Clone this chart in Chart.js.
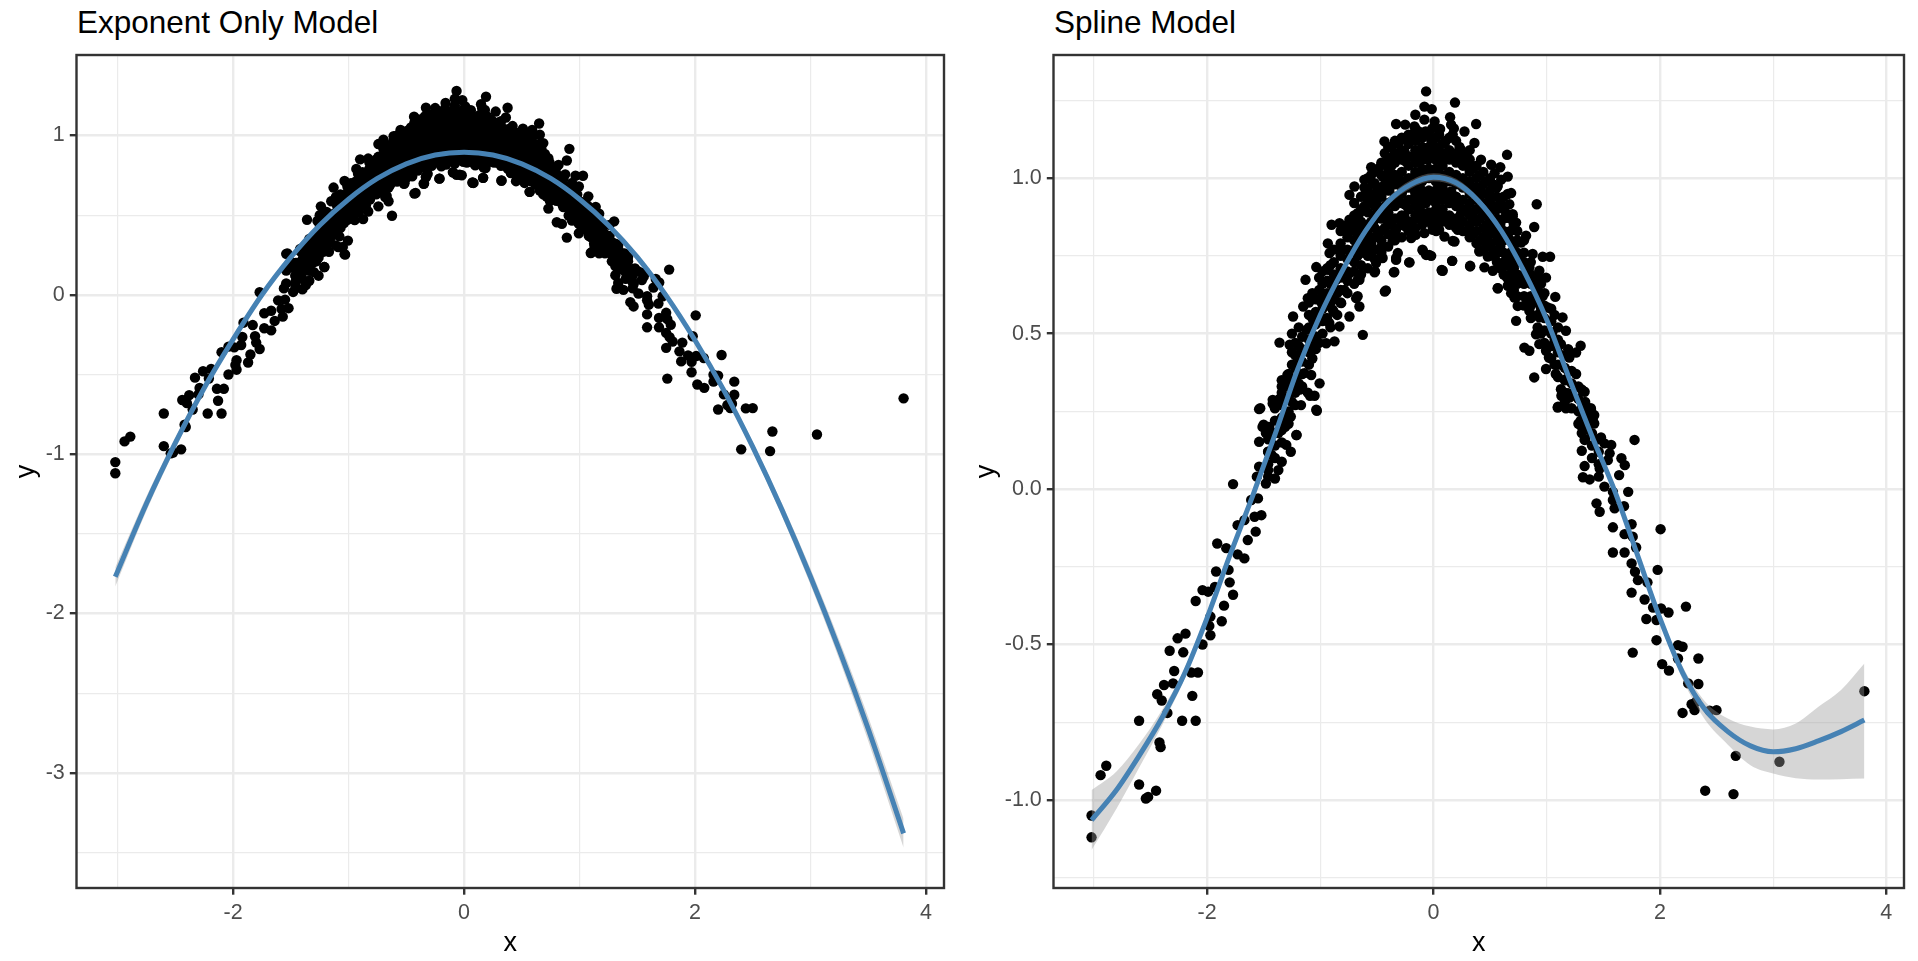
<!DOCTYPE html>
<html><head><meta charset="utf-8">
<script src="https://cdn.jsdelivr.net/npm/chart.js@4.4.1/dist/chart.umd.min.js"></script>
<style>
html,body{margin:0;padding:0;background:#fff;}
body{width:1918px;height:961px;position:relative;overflow:hidden;font-family:"Liberation Sans",Arial,sans-serif;}
canvas{position:absolute;top:0;}
.title{position:absolute;font-size:31.5px;line-height:31px;color:#000;white-space:nowrap;}
</style></head><body>
<div class="title" style="left:77px;top:7px;">Exponent Only Model</div>
<div class="title" style="left:1054px;top:7px;">Spline Model</div>
<canvas id="c1" width="959" height="961" style="left:0px"></canvas>
<canvas id="c2" width="959" height="961" style="left:959px"></canvas>
<script>
// ---------- axis ticks ----------
const xTicksMajor = [-2, 0, 2, 4];
const xTicksMinor = [-3, -1, 1, 3];
const yTicksMajorL = [-3, -2, -1, 0, 1];
const yTickLabelsL = ['-3', '-2', '-1', '0', '1'];
const yTicksMinorL = [-3.5, -2.5, -1.5, -0.5, 0.5, 1.5];
const yTicksMajorR = [-1, -0.5, 0, 0.5, 1];
const yTickLabelsR = ['-1.0', '-0.5', '0.0', '0.5', '1.0'];
const yTicksMinorR = [-1.25, -0.75, -0.25, 0.25, 0.75, 1.25];

// ---------- observed points [x, y] ----------
const ptsLeftTail = [[-3.02,-1.05],[-3.02,-1.12],[-2.94,-0.92],[-2.89,-0.89],[-2.60,-0.95],[-2.54,-0.995],[-2.52,-0.99],[-2.45,-0.97],[-2.60,-0.745],[-2.41,-0.83],[-2.42,-0.815],[-2.35,-0.72],[-2.44,-0.66],[-2.40,-0.68],[-2.38,-0.63],[-2.30,-0.625],[-2.22,-0.745],[-2.10,-0.745],[-2.13,-0.665],[-2.29,-0.585],[-2.14,-0.59],[-2.08,-0.59],[-2.33,-0.52],[-2.21,-0.525],[-2.26,-0.48],[-2.19,-0.465],[-2.04,-0.50],[-1.97,-0.47],[-1.98,-0.44],[-1.97,-0.41],[-1.87,-0.425],[-2.10,-0.36],[-2.04,-0.325],[-1.99,-0.33],[-1.93,-0.315],[-1.85,-0.375],[-1.77,-0.34],[-1.80,-0.30],[-1.92,-0.265],[-1.81,-0.26],[-1.91,-0.175],[-1.83,-0.19],[-1.73,-0.21],[-1.67,-0.223],[-1.73,-0.116],[-1.67,-0.10],[-1.64,-0.164],[-1.57,-0.137],[-1.58,-0.089],[-1.52,-0.084],[-1.61,-0.035],[-1.55,-0.03],[-1.77,0.016],[-1.48,0.018],[-1.56,0.04],[-1.40,0.034],[-1.46,0.061],[-1.54,0.072],[-1.37,0.061],[-1.34,0.088],[-1.54,0.152],[-1.46,0.12],[-1.43,0.11],[-1.30,0.142],[-1.26,0.12],[-1.21,0.174],[-1.51,0.20],[-1.48,0.18],[-1.37,0.18],[-1.31,0.20],[-1.54,0.257],[-1.26,0.233],[-1.03,0.252],[-1.42,0.275],[-1.36,0.29],[-1.17,0.27],[-1.11,0.31],[-1.05,0.30]];

const ptsLeftUpper = [[-1.53,0.26],[-1.50,0.207],[-1.45,0.20],[-1.42,0.287],[-1.36,0.276],[-1.33,0.212],[-1.30,0.233],[-1.21,0.174],[-1.34,0.33],[-1.27,0.34],[-1.29,0.367],[-1.18,0.32],[-1.14,0.373],[-1.08,0.367],[-1.035,0.255],[-1.09,0.30],[-1.006,0.34],[-1.36,0.471],[-1.27,0.464],[-1.20,0.43],[-1.24,0.555],[-1.15,0.587],[-1.11,0.614],[-1.13,0.673],[-1.035,0.714],[-0.93,0.705],[-0.99,0.60],[-1.06,0.544],[-1.12,0.512],[-1.035,0.49],[-0.947,0.469],[-0.874,0.475],[-0.92,0.534],[-0.83,0.523],[-0.742,0.555],[-0.624,0.496],[-0.89,0.577],[-0.815,0.598],[-0.654,0.587],[-0.683,0.614],[-0.786,0.64],[-0.86,0.673],[-0.742,0.694],[-0.654,0.673],[-0.918,0.759],[-0.933,0.79],[-0.83,0.775],[-0.90,0.85],[-0.83,0.855],[-0.742,0.866],[-0.654,0.887],[-0.683,0.855],[-0.742,0.828],[-0.654,0.78],[-0.595,0.807],[-0.566,0.759],[-0.507,0.727],[-0.449,0.743],[-0.516,0.70],[-0.43,0.635],[-0.346,0.698],[-0.33,0.743],[-0.214,0.729],[-0.742,0.946],[-0.698,0.973],[-0.595,0.952],[-0.507,0.92],[-0.537,0.984],[-0.449,1.005],[-0.39,0.962],[-0.42,0.877],[-0.33,0.834],[-0.36,0.80],[-0.29,0.866],[-0.214,0.845],[-0.156,0.818],[-0.097,0.77],[-0.038,0.753],[0.073,0.705],[-0.009,0.845],[0.02,0.898],[-0.067,0.92],[-0.156,0.93],[-0.27,0.962],[-0.185,0.995],[0.079,0.962],[0.079,0.93],[0.05,0.834],[0.108,0.877]];

const ptsPeak = [[-0.065,1.279],[0.19,1.243],[-0.08,1.23],[-0.015,1.222],[-0.16,1.204],[-0.33,1.174],[-0.25,1.172],[-0.168,1.166],[-0.08,1.188],[0.01,1.182],[0.147,1.196],[0.156,1.172],[0.059,1.158],[0.274,1.15],[0.377,1.174],[0.362,1.113],[0.18,1.16],[-0.433,1.118],[-0.24,1.129],[-0.11,1.14],[-0.02,1.123],[0.097,1.113],[0.244,1.091],[0.65,1.075],[-0.55,1.035],[-0.46,1.043],[-0.345,1.059],[-0.374,1.038],[-0.256,1.086],[-0.168,1.07],[-0.05,1.059],[0.068,1.064],[0.186,1.059],[0.303,1.048],[0.42,1.059],[0.51,1.043],[0.59,1.035],[-0.61,0.995],[-0.52,0.984],[-0.40,1.005],[0.598,0.995],[0.54,1.016],[0.656,1.005],[0.686,0.952],[-0.58,0.941],[-0.418,0.962],[-0.286,0.973],[-0.168,0.962],[-0.065,0.93],[0.038,0.962],[0.156,0.957],[0.274,0.973],[0.39,0.962],[0.51,0.941],[0.6,0.909],[0.7,0.877],[-0.67,0.887],[-0.52,0.866],[-0.40,0.887],[-0.256,0.877],[-0.14,0.909],[0.009,0.887],[0.127,0.866],[0.244,0.887],[0.362,0.866],[0.48,0.877],[-0.624,0.823],[-0.49,0.812],[-0.345,0.823],[-0.197,0.807],[-0.08,0.823],[-0.006,0.834],[0.097,0.812],[0.215,0.834],[0.333,0.823],[0.45,0.812],[0.568,0.812],[0.716,0.834],[0.186,0.796],[-0.58,0.759],[-0.46,0.78],[-0.315,0.759],[-0.33,0.737],[-0.094,0.767],[-0.065,0.753],[0.406,0.764],[0.48,0.748],[-0.212,0.729],[-0.52,0.697],[-0.35,0.697],[-0.42,0.639],[0.074,0.703],[0.165,0.734],[0.324,0.718],[0.568,0.646],[0.745,0.673],[0.686,0.63],[-0.67,0.673],[-0.67,0.62]];

const ptsRightUpper = [[0.568,0.975],[0.656,0.949],[0.912,0.916],[0.67,0.916],[0.70,0.884],[0.73,0.857],[0.89,0.843],[0.818,0.815],[0.774,0.793],[0.17,0.798],[0.347,0.82],[0.465,0.83],[0.553,0.847],[0.024,0.83],[0.406,0.766],[0.494,0.788],[0.553,0.756],[0.165,0.734],[-0.02,0.75],[0.082,0.702],[0.324,0.716],[0.45,0.713],[0.524,0.702],[0.656,0.718],[0.715,0.745],[0.774,0.734],[0.876,0.756],[0.965,0.747],[1.03,0.747],[0.935,0.702],[0.847,0.713],[0.67,0.68],[0.656,0.654],[0.568,0.646],[0.79,0.664],[0.906,0.67],[0.994,0.68],[0.715,0.616],[0.847,0.611],[0.965,0.621],[1.076,0.618],[0.744,0.589],[0.847,0.573],[0.935,0.552],[0.73,0.541],[1.009,0.584],[1.14,0.552],[1.17,0.509],[1.05,0.504],[0.906,0.498],[0.935,0.466],[0.803,0.455],[0.847,0.445],[0.994,0.445],[1.126,0.466],[1.30,0.461],[1.26,0.439],[1.20,0.423],[1.02,0.423],[0.994,0.386],[0.89,0.359],[1.08,0.37],[1.17,0.353],[1.26,0.37],[1.32,0.316],[1.126,0.321],[1.20,0.294],[1.097,0.262],[1.17,0.26],[1.39,0.257],[1.41,0.23],[1.30,0.22],[1.35,0.193],[1.48,0.166]];

const ptsRightTail = [[1.10,0.265],[1.16,0.28],[1.13,0.30],[1.19,0.308],[1.335,0.313],[1.39,0.26],[1.42,0.238],[1.42,0.211],[1.31,0.20],[1.335,0.158],[1.51,0.147],[1.57,0.142],[1.556,0.115],[1.776,0.158],[1.31,0.123],[1.54,0.093],[1.66,0.099],[1.69,0.077],[1.64,0.045],[1.335,0.074],[1.32,0.038],[1.38,0.031],[1.468,0.066],[1.51,0.008],[1.72,-0.009],[1.585,-0.009],[1.585,-0.035],[1.44,-0.046],[1.468,-0.073],[1.60,-0.062],[1.683,-0.055],[2.006,-0.129],[1.75,-0.113],[1.585,-0.123],[1.688,-0.145],[1.79,-0.188],[1.585,-0.204],[1.688,-0.204],[1.76,-0.153],[1.75,-0.239],[1.78,-0.266],[1.98,-0.26],[1.89,-0.30],[1.806,-0.293],[1.75,-0.333],[1.865,-0.355],[1.94,-0.381],[2.01,-0.384],[2.076,-0.397],[2.23,-0.378],[1.88,-0.418],[1.97,-0.421],[1.97,-0.486],[1.76,-0.526],[2.16,-0.502],[2.20,-0.507],[2.16,-0.545],[2.34,-0.545],[2.02,-0.563],[2.08,-0.584],[2.25,-0.625],[2.34,-0.627],[2.28,-0.692],[2.32,-0.684],[2.306,-0.711],[2.20,-0.72],[2.44,-0.713],[2.50,-0.711],[2.67,-0.858],[3.056,-0.877],[3.806,-0.65],[2.40,-0.97],[2.65,-0.981]];

// dense cloud around the top: [x, [y values]]
const coreCols = [
 [-0.88,[0.57,0.61,0.65,0.69,0.73,0.77]],
 [-0.82,[0.60,0.64,0.68,0.71,0.75,0.79,0.83]],
 [-0.76,[0.63,0.67,0.70,0.74,0.77,0.81,0.85]],
 [-0.70,[0.66,0.70,0.73,0.77,0.80,0.84,0.88,0.92]],
 [-0.64,[0.69,0.72,0.76,0.79,0.83,0.86,0.90,0.94]],
 [-0.58,[0.71,0.75,0.78,0.82,0.85,0.89,0.92,0.96,1.00]],
 [-0.52,[0.74,0.77,0.81,0.84,0.88,0.91,0.95,0.98,1.02]],
 [-0.46,[0.76,0.80,0.83,0.87,0.90,0.94,0.97,1.01,1.05]],
 [-0.40,[0.78,0.82,0.85,0.89,0.92,0.96,0.99,1.03,1.06,1.10]],
 [-0.34,[0.80,0.84,0.87,0.91,0.94,0.98,1.01,1.05,1.08,1.12]],
 [-0.28,[0.81,0.85,0.88,0.92,0.95,0.99,1.02,1.06,1.09,1.13]],
 [-0.22,[0.83,0.86,0.90,0.93,0.97,1.00,1.04,1.07,1.11,1.14]],
 [-0.16,[0.84,0.88,0.91,0.95,0.98,1.02,1.05,1.09,1.12,1.16]],
 [-0.10,[0.85,0.89,0.92,0.96,0.99,1.03,1.06,1.10,1.13]],
 [-0.04,[0.86,0.89,0.93,0.96,1.00,1.03,1.07,1.10,1.14]],
 [0.02,[0.85,0.89,0.92,0.96,0.99,1.03,1.06,1.10,1.13]],
 [0.08,[0.86,0.90,0.93,0.97,1.00,1.04,1.07,1.11]],
 [0.14,[0.85,0.88,0.92,0.95,0.99,1.02,1.06,1.09,1.13]],
 [0.20,[0.84,0.87,0.91,0.94,0.98,1.01,1.05,1.08,1.12]],
 [0.26,[0.83,0.86,0.90,0.93,0.97,1.00,1.04,1.07]],
 [0.32,[0.81,0.85,0.88,0.92,0.95,0.99,1.02,1.06,1.09]],
 [0.38,[0.79,0.83,0.86,0.90,0.93,0.97,1.00,1.04]],
 [0.44,[0.77,0.81,0.84,0.88,0.91,0.95,0.98,1.02]],
 [0.50,[0.75,0.79,0.82,0.86,0.89,0.93,0.96,1.00]],
 [0.56,[0.73,0.76,0.80,0.83,0.87,0.90,0.94,0.97]],
 [0.62,[0.69,0.73,0.76,0.80,0.83,0.87,0.90,0.94]],
 [0.68,[0.66,0.69,0.73,0.76,0.80,0.83,0.87]],
 [0.74,[0.62,0.66,0.69,0.73,0.76,0.80,0.83]],
 [0.80,[0.59,0.62,0.66,0.69,0.73,0.76,0.80]],
 [0.86,[0.55,0.59,0.62,0.66,0.69,0.73]]
];
const innerCols = [
 [-0.67,[0.75,0.82,0.88]],
 [-0.61,[0.77,0.84,0.91,0.97]],
 [-0.55,[0.79,0.86,0.94,1.01]],
 [-0.49,[0.82,0.89,0.96,1.03]],
 [-0.43,[0.84,0.91,0.98,1.045,1.08]],
 [-0.37,[0.86,0.925,0.995,1.065,1.10]],
 [-0.31,[0.87,0.935,1.005,1.075,1.11]],
 [-0.25,[0.845,0.915,0.985,1.055,1.125]],
 [-0.19,[0.86,0.93,1.00,1.07,1.14]],
 [-0.13,[0.87,0.94,1.01,1.08,1.15]],
 [-0.07,[0.875,0.945,1.015,1.085,1.15]],
 [-0.01,[0.875,0.945,1.015,1.085,1.16]],
 [0.05,[0.875,0.945,1.015,1.085,1.14]],
 [0.11,[0.87,0.94,1.01,1.08,1.12]],
 [0.17,[0.865,0.935,1.005,1.075,1.14]],
 [0.23,[0.855,0.925,0.995,1.065,1.10]],
 [0.29,[0.83,0.90,0.97,1.04,1.08]],
 [0.35,[0.82,0.89,0.96,1.03]],
 [0.41,[0.80,0.87,0.94,1.01]],
 [0.47,[0.78,0.85,0.92,0.99]],
 [0.53,[0.77,0.84,0.91,0.98]],
 [0.59,[0.71,0.78,0.85,0.92]],
 [0.65,[0.68,0.745,0.815,0.885]],
 [0.71,[0.64,0.71,0.78,0.85]]
];
const flankCols = [
 [-1.46,[0.04,0.08,0.12,0.16,0.20]],
 [-1.40,[0.10,0.14,0.18,0.22,0.26]],
 [-1.34,[0.15,0.19,0.23,0.27,0.31,0.35]],
 [-1.28,[0.21,0.25,0.29,0.33,0.37]],
 [-1.25,[0.28,0.32,0.40,0.44,0.50]],
 [-1.22,[0.27,0.31,0.35,0.39,0.43,0.47]],
 [-1.19,[0.34,0.42,0.46,0.52]],
 [-1.16,[0.33,0.37,0.41,0.45,0.49]],
 [-1.10,[0.40,0.44,0.48,0.52,0.56,0.60]],
 [-1.07,[0.42,0.46,0.55,0.63]],
 [-1.04,[0.45,0.49,0.53,0.57,0.61]],
 [-1.01,[0.47,0.56,0.64,0.68]],
 [-0.98,[0.50,0.54,0.58,0.62,0.66,0.70]],
 [-0.94,[0.55,0.59,0.63,0.67,0.71]],
 [-0.91,[0.52,0.60,0.66,0.72]],
 [-0.85,[0.56,0.63,0.69]],
 [0.92,[0.52,0.56,0.60,0.64,0.68]],
 [0.95,[0.50,0.58,0.66]],
 [0.98,[0.47,0.51,0.55,0.59,0.63]],
 [1.04,[0.42,0.46,0.50,0.54,0.58]],
 [1.07,[0.40,0.48,0.56]],
 [1.10,[0.36,0.40,0.44,0.48,0.52]],
 [1.16,[0.31,0.35,0.39,0.43]],
 [1.19,[0.30,0.38,0.45]],
 [1.22,[0.26,0.30,0.34,0.38]],
 [1.28,[0.21,0.25,0.29,0.33]],
 [1.31,[0.18,0.26,0.32]],
 [1.34,[0.16,0.20,0.24,0.28]],
 [1.40,[0.10,0.14,0.18,0.22]],
 [1.46,[0.04,0.08,0.12,0.16]]
];

// ---------- fitted curves ----------
const expX  = [-3.02,-2.75,-2.5,-2.25,-2.0,-1.75,-1.5,-1.25,-1.0,-0.75,-0.5,-0.25,0,0.25,0.5,0.75,1.0,1.25,1.5,1.75,2.0,2.25,2.5,2.75,3.0,3.25,3.5,3.806];
const expY  = [-1.77,-1.31,-0.93,-0.585,-0.28,0.0,0.236,0.437,0.60,0.73,0.822,0.877,0.895,0.877,0.822,0.73,0.60,0.437,0.236,-0.005,-0.285,-0.60,-0.955,-1.345,-1.77,-2.23,-2.725,-3.38];
const expLo = [-1.83,-1.355,-0.964,-0.61,-0.298,-0.014,0.224,0.425,0.588,0.718,0.81,0.865,0.883,0.865,0.81,0.718,0.588,0.425,0.224,-0.019,-0.303,-0.625,-0.985,-1.385,-1.82,-2.29,-2.80,-3.47];
const expHi = [-1.71,-1.265,-0.896,-0.56,-0.262,0.014,0.248,0.449,0.612,0.742,0.834,0.889,0.907,0.889,0.834,0.742,0.612,0.449,0.248,0.009,-0.267,-0.575,-0.925,-1.305,-1.72,-2.17,-2.65,-3.29];

const splX  = [-3.02,-2.8,-2.6,-2.4,-2.2,-2.0,-1.8,-1.6,-1.4,-1.2,-1.0,-0.8,-0.6,-0.4,-0.2,0.0,0.2,0.4,0.6,0.8,1.0,1.2,1.4,1.6,1.8,2.0,2.2,2.4,2.6,2.8,3.0,3.2,3.4,3.6,3.806];
const splY  = [-1.065,-0.968,-0.858,-0.737,-0.595,-0.415,-0.215,-0.025,0.175,0.385,0.56,0.705,0.83,0.925,0.98,1.003,0.985,0.925,0.83,0.70,0.545,0.355,0.17,-0.005,-0.21,-0.415,-0.59,-0.71,-0.78,-0.826,-0.845,-0.835,-0.81,-0.78,-0.743];
const splHi = [-0.968,-0.908,-0.820,-0.712,-0.578,-0.402,-0.204,-0.015,0.185,0.395,0.570,0.715,0.841,0.937,0.993,1.016,0.998,0.937,0.841,0.710,0.555,0.365,0.180,0.006,-0.198,-0.400,-0.570,-0.684,-0.738,-0.764,-0.773,-0.754,-0.700,-0.646,-0.561];
const splLo = [-1.161,-1.028,-0.896,-0.762,-0.612,-0.428,-0.226,-0.035,0.165,0.375,0.550,0.695,0.819,0.913,0.967,0.990,0.972,0.913,0.819,0.690,0.535,0.345,0.160,-0.016,-0.222,-0.430,-0.612,-0.743,-0.822,-0.888,-0.915,-0.930,-0.934,-0.933,-0.931];

// ---------- build ----------
const toXY = arr => arr.map(([x, y]) => ({x, y}));
const colsToXY = cols => cols.flatMap(([x, ys]) => ys.map(y => ({x, y})));
const allPoints = [
  ...toXY(ptsLeftTail), ...toXY(ptsLeftUpper), ...toXY(ptsPeak),
  ...toXY(ptsRightUpper), ...toXY(ptsRightTail),
  ...colsToXY(coreCols), ...colsToXY(innerCols), ...colsToXY(flankCols)
];
const zipXY = (xs, ys) => xs.map((x, i) => ({x, y: ys[i]}));

Chart.defaults.font.family = '"Liberation Sans", Arial, sans-serif';

const GRID = '#EBEBEB', INK = '#333333';
const border = {
  id: 'panelBorder',
  afterDatasetsDraw(chart) {
    const {ctx, chartArea: a} = chart;
    ctx.save();
    ctx.strokeStyle = INK; ctx.lineWidth = 2.4;
    ctx.strokeRect(a.left, a.top, a.right - a.left, a.bottom - a.top);
    ctx.restore();
  }
};

function isIn(v, arr) { return arr.some(a => Math.abs(a - v) < 1e-9); }

function makeChart(id, o) {
  const xAll = [...xTicksMinor, ...xTicksMajor].sort((a, b) => a - b);
  const yAll = [...o.yMinor, ...o.yMajor].sort((a, b) => a - b);
  const gridOpts = (major) => ({
    color: GRID,
    lineWidth: c => (c.tick && isIn(c.tick.value, major)) ? 2.4 : 1.2,
    drawTicks: true,
    tickLength: 6.7,
    tickWidth: c => (c.tick && isIn(c.tick.value, major)) ? 2.4 : 0,
    tickColor: c => (c.tick && isIn(c.tick.value, major)) ? INK : 'rgba(0,0,0,0)'
  });
  return new Chart(document.getElementById(id), {
    type: 'scatter',
    data: {
      datasets: [
        { type: 'scatter', data: allPoints, backgroundColor: '#000', borderWidth: 0,
          pointRadius: 5.2, pointHoverRadius: 5.2, order: 3 },
        { type: 'line', data: zipXY(o.fx, o.fhi), fill: '+1', backgroundColor: 'rgba(153,153,153,0.4)',
          borderWidth: 0, borderColor: 'rgba(0,0,0,0)', pointRadius: 0, cubicInterpolationMode: 'monotone', order: 2 },
        { type: 'line', data: zipXY(o.fx, o.flo), fill: false,
          borderWidth: 0, borderColor: 'rgba(0,0,0,0)', pointRadius: 0, cubicInterpolationMode: 'monotone', order: 2 },
        { type: 'line', data: zipXY(o.fx, o.fy), fill: false, borderColor: '#4682B4', borderWidth: 5,
          pointRadius: 0, cubicInterpolationMode: 'monotone', order: 1 }
      ]
    },
    options: {
      responsive: false, animation: false, events: [],
      layout: { padding: { top: 55, right: o.padRight, left: 0, bottom: 0 } },
      plugins: { legend: { display: false }, tooltip: { enabled: false }, title: { display: false } },
      scales: {
        x: {
          type: 'linear', min: -3.356, max: 4.156,
          afterBuildTicks: s => { s.ticks = xAll.map(v => ({value: v})); },
          afterFit: s => { s.height = 73; },
          grid: gridOpts(xTicksMajor),
          border: { display: false },
          ticks: { autoSkip: false, maxRotation: 0, padding: 5, color: '#4D4D4D', font: { size: 21.5 },
                   callback: v => isIn(v, xTicksMajor) ? String(v) : '' },
          title: { display: true, text: 'x', color: '#000', font: { size: 27 }, padding: { top: 0, bottom: 0.8 } }
        },
        y: {
          type: 'linear', min: o.ymin, max: o.ymax,
          afterBuildTicks: s => { s.ticks = yAll.map(v => ({value: v})); },
          afterFit: s => { s.width = o.yWidth; },
          grid: gridOpts(o.yMajor),
          border: { display: false },
          ticks: { autoSkip: false, padding: 5, color: '#4D4D4D', font: { size: 21.5 },
                   callback: v => { const i = o.yMajor.findIndex(a => Math.abs(a - v) < 1e-9); return i >= 0 ? o.yLabels[i] : ''; } },
          title: { display: true, text: 'y', color: '#000', font: { size: 27 }, padding: { top: o.yTitlePad, bottom: 0 } }
        }
      }
    },
    plugins: [border]
  });
}

makeChart('c1', {
  fx: expX, fy: expY, flo: expLo, fhi: expHi,
  ymin: -3.723, ymax: 1.505, yMajor: yTicksMajorL, yLabels: yTickLabelsL, yMinor: yTicksMinorL,
  yWidth: 76.5, padRight: 15, yTitlePad: 10.5
});
makeChart('c2', {
  fx: splX, fy: splY, flo: splLo, fhi: splHi,
  ymin: -1.283, ymax: 1.396, yMajor: yTicksMajorR, yLabels: yTickLabelsR, yMinor: yTicksMinorR,
  yWidth: 94.5, padRight: 14, yTitlePad: 11
});
</script>
</body></html>
